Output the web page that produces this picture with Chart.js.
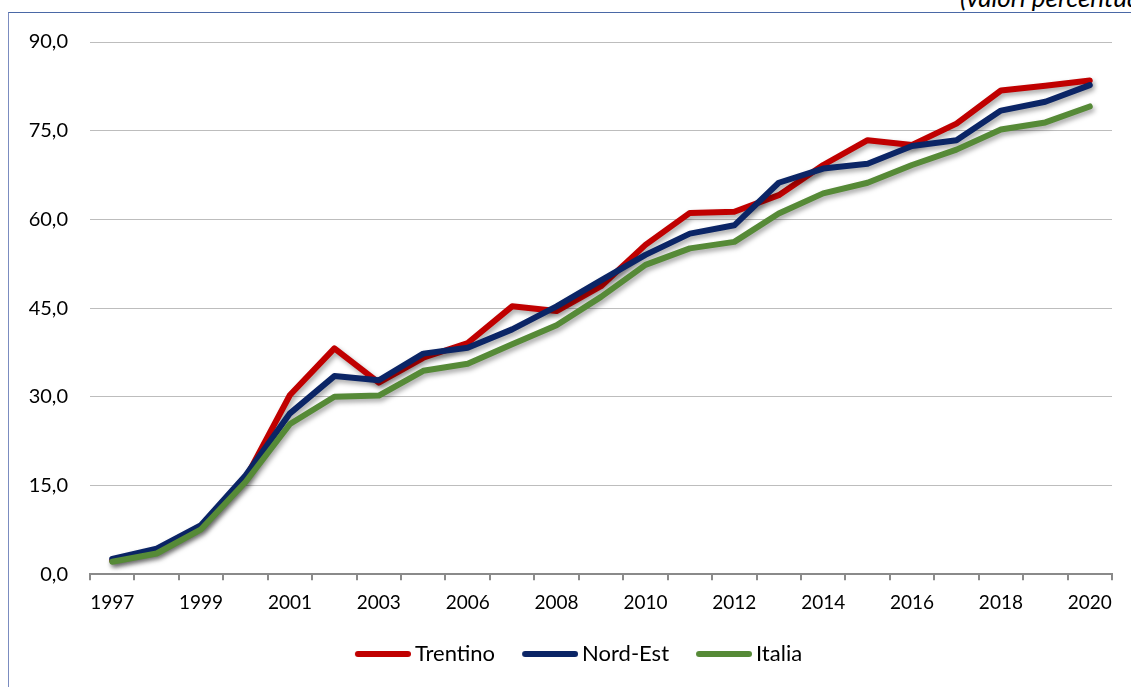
<!DOCTYPE html>
<html>
<head>
<meta charset="utf-8">
<script src="https://cdn.jsdelivr.net/npm/chart.js@4.4.1/dist/chart.umd.min.js"></script>
<style>
  html, body { margin: 0; padding: 0; background: #ffffff; overflow: hidden; }
  #frame { position: absolute; left: 8px; top: 12px; width: 1200px; height: 760px;
           border-left: 1.5px solid #7b8cc0; border-top: 1.5px solid #4a68a6; box-sizing: border-box; }
  #note { position: absolute; left: 960px; top: -16px; font-family: Lato, sans-serif; font-style: italic;
          font-size: 26px; line-height: 26px; color: #000; white-space: nowrap; }
  #wrap { position: absolute; left: 0; top: 0; width: 1131px; height: 687px; }
</style>
</head>
<body>
<div id="frame"></div>
<div id="note">(valori percentuali)</div>
<div id="wrap"><canvas id="c" width="1131" height="687"></canvas></div>
<script>
// Years (2004 not present in the source series)
const years = ['1997','1998','1999','2000','2001','2002','2003','2005','2006','2007','2008','2009',
               '2010','2011','2012','2013','2014','2015','2016','2017','2018','2019','2020'];
const trentino = [2.3, 3.8, 8.0, 16.2, 30.3, 38.2, 32.4, 36.6, 39.1, 45.3, 44.5, 48.7,
                  55.7, 61.1, 61.3, 64.1, 69.2, 73.4, 72.6, 76.2, 81.8, 82.6, 83.5];
const nordEst  = [2.6, 4.3, 8.3, 16.7, 27.2, 33.5, 32.8, 37.3, 38.3, 41.4, 45.3, 49.7,
                  54.0, 57.6, 59.0, 66.2, 68.6, 69.4, 72.4, 73.4, 78.4, 79.9, 82.7];
const italia   = [2.1, 3.5, 7.6, 15.6, 25.4, 30.0, 30.2, 34.4, 35.6, 38.9, 42.1, 46.9,
                  52.3, 55.1, 56.2, 61.0, 64.4, 66.2, 69.2, 71.8, 75.2, 76.4, 79.1];
const yTicks = [0, 15, 30, 45, 60, 75, 90];

const FONT = 'Lato, sans-serif';

// legend swatch: a thick rounded line placed so it ends just before the label text
const SWATCH_BOX = 58;
function makeSwatch(color) {
  const c = document.createElement('canvas');
  c.width = 72; c.height = 10;
  const g = c.getContext('2d');
  g.strokeStyle = color; g.lineWidth = 6; g.lineCap = 'round';
  g.beginPath(); g.moveTo(19, 5); g.lineTo(69, 5); g.stroke();
  return c;
}

const shadowPlugin = {
  id: 'lineShadow',
  beforeDatasetDraw(chart) {
    const ctx = chart.ctx;
    ctx.save();
    ctx.shadowColor = 'rgba(0,0,0,0.35)';
    ctx.shadowBlur = 5;
    ctx.shadowOffsetX = 2;
    ctx.shadowOffsetY = 3;
  },
  afterDatasetDraw(chart) {
    chart.ctx.restore();
  }
};

const legendShift = {
  id: 'legendShift',
  afterLayout(chart) {
    if (chart.legend) { chart.legend.left += 13; chart.legend.right += 13; }
  }
};

new Chart(document.getElementById('c'), {
  type: 'line',
  data: {
    labels: years,
    datasets: [
      { label: 'Trentino', data: trentino, borderColor: '#c00000', backgroundColor: '#c00000', order: 3 },
      { label: 'Nord-Est', data: nordEst, borderColor: '#0b2566', backgroundColor: '#0b2566', order: 2 },
      { label: 'Italia', data: italia, borderColor: '#568a37', backgroundColor: '#568a37', order: 1 }
    ]
  },
  options: {
    responsive: false,
    animation: false,
    devicePixelRatio: 1,
    layout: { padding: { left: 10, right: 19, top: 42, bottom: 12 } },
    elements: {
      line: { borderWidth: 6, tension: 0, borderCapStyle: 'round', borderJoinStyle: 'round' },
      point: { radius: 0, hoverRadius: 0 }
    },
    plugins: {
      tooltip: { enabled: false },
      legend: {
        position: 'bottom',
        labels: {
          usePointStyle: true,
          pointStyleWidth: SWATCH_BOX,
          boxHeight: 22,
          padding: 18,
          color: '#000',
          font: { family: FONT, size: 22 },
          generateLabels(chart) {
            return chart.data.datasets.map((ds, i) => ({
              text: ds.label,
              fillStyle: ds.borderColor,
              strokeStyle: ds.borderColor,
              lineWidth: 0,
              pointStyle: makeSwatch(ds.borderColor),
              hidden: false,
              datasetIndex: i,
              fontColor: '#000'
            }));
          }
        }
      }
    },
    scales: {
      x: {
        type: 'category',
        offset: true,
        grid: { offset: true, drawOnChartArea: false, drawTicks: true, tickLength: 6,
                color: '#8a8a8a', lineWidth: 2 },
        border: { display: true, color: '#8a8a8a', width: 2 },
        ticks: {
          autoSkip: false, maxRotation: 0, minRotation: 0, padding: 11,
          color: '#000', font: { family: FONT, size: 19 },
          callback: function(v, i) { return i % 2 === 0 ? years[i] : ''; }
        }
      },
      y: {
        min: 0, max: 90,
        afterBuildTicks(scale) { scale.ticks = yTicks.map(v => ({ value: v })); },
        afterFit(scale) { scale.width = 80; },
        grid: { color: '#bdbdbd', lineWidth: 1, drawTicks: false },
        border: { display: false },
        ticks: {
          padding: 22, color: '#000', font: { family: FONT, size: 20 },
          callback: v => v.toFixed(1).replace('.', ',')
        }
      }
    }
  },
  plugins: [shadowPlugin, legendShift]
});
</script>
</body>
</html>
